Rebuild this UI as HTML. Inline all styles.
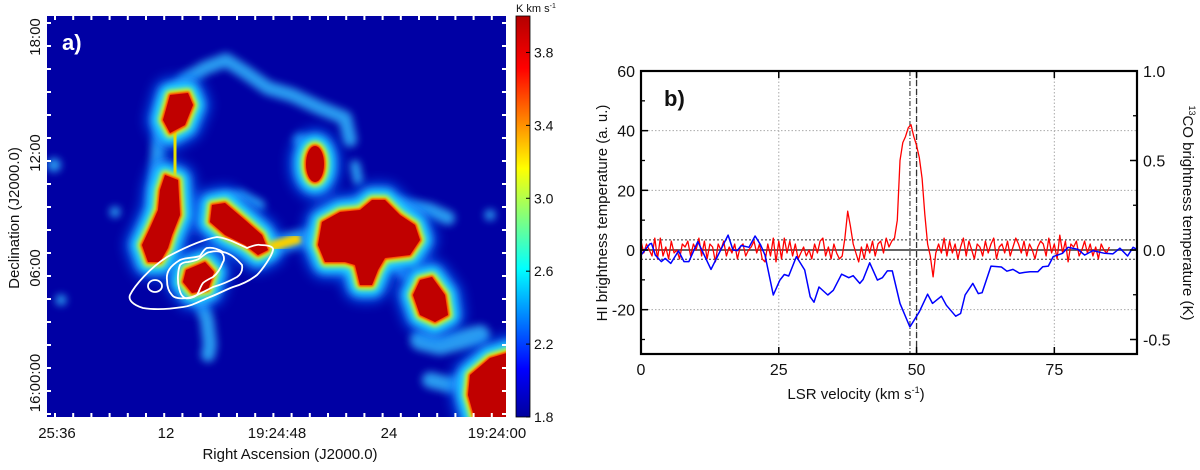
<!DOCTYPE html>
<html><head><meta charset="utf-8">
<style>
body{margin:0;background:#fff;width:1200px;height:465px;overflow:hidden;font-family:"Liberation Sans",sans-serif;}
svg text{font-family:"Liberation Sans",sans-serif;}
</style></head>
<body>
<svg id="fig" width="1200" height="465" viewBox="0 0 1200 465" xmlns="http://www.w3.org/2000/svg">
<defs>
  <filter id="bl0" x="-30%" y="-30%" width="160%" height="160%"><feGaussianBlur stdDeviation="6"/></filter>
  <filter id="bl1" x="-30%" y="-30%" width="160%" height="160%"><feGaussianBlur stdDeviation="4"/></filter>
  <filter id="bl2" x="-20%" y="-20%" width="140%" height="140%"><feGaussianBlur stdDeviation="2.5"/></filter>
  <filter id="bl3" x="-20%" y="-20%" width="140%" height="140%"><feGaussianBlur stdDeviation="1"/></filter>
  <clipPath id="mapclip"><rect x="47" y="16" width="459" height="401"/></clipPath>
  <linearGradient id="jet" x1="0" y1="1" x2="0" y2="0">
    <stop offset="0" stop-color="#00009c"/>
    <stop offset="0.12" stop-color="#0000ff"/>
    <stop offset="0.37" stop-color="#00ffff"/>
    <stop offset="0.62" stop-color="#ffff00"/>
    <stop offset="0.87" stop-color="#ff0000"/>
    <stop offset="1" stop-color="#b40000"/>
  </linearGradient>
  <g id="cores">
    <polygon points="170,95 188,93 193,105 185,125 170,133 163,120"/>
    <polygon points="165,175 178,180 180,215 172,235 168,248 160,262 148,262 142,245 150,228 158,210 160,190"/>
    <polygon points="212,205 225,203 245,220 262,235 268,250 258,255 245,245 225,235 210,222"/>
    <polygon points="186,270 205,262 214,272 208,290 192,293 183,282"/>
    <ellipse cx="315" cy="164" rx="9" ry="18"/>
    <polygon points="322,222 340,212 360,210 372,200 385,200 400,215 415,225 420,240 410,255 385,258 378,270 372,285 360,285 355,265 345,262 325,262 318,245"/>
    <polygon points="420,280 432,277 445,295 448,315 435,322 420,315 413,295"/>
    <polygon points="470,375 490,358 510,352 510,420 475,420 468,395"/>
  </g>
</defs>

<g>
  <g clip-path="url(#mapclip)">
    <rect x="47" y="16" width="459" height="401" fill="#0000a4"/>
    <g filter="url(#bl1)" fill="none" stroke="#30b8ff" stroke-linecap="round" stroke-linejoin="round" opacity="0.85">
      <polyline points="158,255 156,200 158,150 165,105 185,80 205,68 226,60 245,72 268,88 292,95 320,108 345,118 350,140" stroke-width="14"/>
      <polyline points="200,300 207,320 210,345 208,355" stroke-width="14"/>
      <polyline points="268,247 295,240 322,235" stroke-width="18"/>
      <polyline points="420,340 440,345 460,340 480,335" stroke-width="20"/>
      <polyline points="430,380 450,385 470,380" stroke-width="16"/>
      <polyline points="355,165 358,180" stroke-width="10"/>
      <polyline points="220,200 240,195 260,205" stroke-width="10"/>
      <polyline points="400,205 430,210 448,218" stroke-width="14"/>
      <polyline points="395,265 405,275" stroke-width="10"/>
      <circle cx="54" cy="165" r="5" fill="#30b8ff" stroke-width="4"/>
      <circle cx="115" cy="212" r="4" fill="#30b8ff" stroke-width="3"/>
      <circle cx="61" cy="300" r="4" fill="#30b8ff" stroke-width="3"/>
      <circle cx="490" cy="215" r="4" fill="#30b8ff" stroke-width="3"/>
      <circle cx="300" cy="140" r="5" fill="#30b8ff" stroke-width="3"/>
    </g>
    <use href="#cores" fill="#1070ff" stroke="#1070ff" stroke-width="34" stroke-linejoin="round" filter="url(#bl0)" opacity="0.8"/>
    <use href="#cores" fill="#20d8ff" stroke="#20d8ff" stroke-width="22" stroke-linejoin="round" filter="url(#bl1)"/>
    <use href="#cores" fill="#e8f000" stroke="#e8f000" stroke-width="9" stroke-linejoin="round" filter="url(#bl2)"/>
    <polyline points="176,128 174,175" stroke="#e8e000" stroke-width="14" fill="none" filter="url(#bl2)"/>
    <polyline points="270,247 300,238" stroke="#f8d000" stroke-width="10" fill="none" filter="url(#bl2)"/>
    <use href="#cores" fill="#ff3000" stroke="#ff3000" stroke-width="3" stroke-linejoin="round" filter="url(#bl3)"/>
    <use href="#cores" fill="#c00000"/>
    <g fill="none" stroke="#fff" stroke-width="1.8" stroke-linejoin="round">
      <path d="M130,295 C135,285 150,268 167,257 C180,250 200,240 217,237 C228,238 240,245 247,248 C252,246 258,244 260,245 C266,245 274,246 273,250 C272,256 262,270 257,275 C248,282 240,285 233,287 C225,290 218,294 210,297 C200,301 192,306 183,307 C170,309 155,310 143,308 C133,305 128,300 130,295 Z"/>
      <path d="M167,280 C166,272 170,266 180,260 C188,257 195,258 200,256 C203,252 204,249 207,248 C213,247 218,249 223,252 C229,253 236,258 242,265 C243,271 240,275 237,277 C228,282 220,285 213,287 C203,292 195,297 187,298 C180,299 174,298 172,295 C168,291 167,285 167,280 Z"/>
      <path d="M179,288 C177,280 178,270 180,265 C183,262 186,262 188,262 C194,261 198,260 200,258 C204,255 207,252 210,252 C215,251 220,251 222,253 C225,257 224,261 223,262 C220,270 217,274 213,277 C209,279 205,281 203,283 C200,287 199,292 197,295 C193,298 188,299 185,298 C181,296 180,292 179,288 Z"/>
      <ellipse cx="155" cy="286" rx="7" ry="6"/>
    </g>
  </g>
  <g id="mapticks" stroke="#fff" stroke-width="2"></g>
  <text x="62" y="50" font-size="22" font-weight="bold" fill="#fff">a)</text>
  <g font-size="15" fill="#111">
    <text x="57" y="438" text-anchor="middle">25:36</text>
    <text x="166" y="438" text-anchor="middle">12</text>
    <text x="277" y="438" text-anchor="middle">19:24:48</text>
    <text x="389" y="438" text-anchor="middle">24</text>
    <text x="497" y="438" text-anchor="middle">19:24:00</text>
  </g>
  <text x="290" y="459" font-size="15" text-anchor="middle" fill="#111">Right Ascension (J2000.0)</text>
  <g font-size="15" fill="#111">
    <text transform="translate(40,37) rotate(-90)" text-anchor="middle">18:00</text>
    <text transform="translate(40,153) rotate(-90)" text-anchor="middle">12:00</text>
    <text transform="translate(40,268) rotate(-90)" text-anchor="middle">06:00</text>
    <text transform="translate(40,383) rotate(-90)" text-anchor="middle">16:00:00</text>
  </g>
  <text transform="translate(19,218) rotate(-90)" font-size="15" text-anchor="middle" fill="#111">Declination (J2000.0)</text>
  <g>
    <rect x="516" y="16" width="14" height="401" fill="url(#jet)" stroke="#000" stroke-width="0.8"/>
    <text x="516" y="12" font-size="11" fill="#111">K km s<tspan font-size="7" dy="-4">-1</tspan></text>
    <g id="cbticks" font-size="14" fill="#111"></g>
  </g>
</g>

<g id="spec">
  <g id="grid"></g>
  <g id="series"></g>
  <rect x="641" y="71" width="496" height="283" fill="none" stroke="#000" stroke-width="2.2"/>
  <g id="axes"></g>
  <text x="664" y="106" font-size="22" font-weight="bold" fill="#111">b)</text>
  <text x="856" y="399" font-size="15" text-anchor="middle" fill="#111">LSR velocity (km s<tspan font-size="9" dy="-6">-1</tspan><tspan dy="6">)</tspan></text>
  <text transform="translate(607,213) rotate(-90)" font-size="15" text-anchor="middle" fill="#111">HI brightness temperature (a. u.)</text>
  <text transform="translate(1183,213) rotate(90)" font-size="15" text-anchor="middle" fill="#111"><tspan font-size="9" dy="-6">13</tspan><tspan dy="6">CO brightness temperature (K)</tspan></text>
</g>
</svg>
<script>
// ---- data ----
const xTicks = [0, 25, 50, 75];
const yTicksLeft = [60, 40, 20, 0, -20];
const yMinorLeft = [50, 30, 10, -10, -30];
const yTicksRight = [1.0, 0.5, 0.0, -0.5];
const yTickLabelsRight = ["1.0", "0.5", "0.0", "-0.5"];
const yMinorRight = [0.75, 0.25, -0.25];
const cbTicks = [3.8, 3.4, 3.0, 2.6, 2.2, 1.8];
const cbLabels = ["3.8", "3.4", "3.0", "2.6", "2.2", "1.8"];
const redStep = 0.5;
const redT = [3,-1,2,0,-2,4,-3,4,-2,1,-3,3,-1,0,-3,2,1,3,-2,2,0,
 4,-2,3,-3,2,1,-4,2,0,3,-2,1,-1,2,-3,1,2,-2,0,1,
 3,-1,2,-3,-4,2,-2,4,-4,3,-3,4,-1,3,-2,2,-3,-1,1,-2,
 0,-3,2,-1,3,4,-2,1,-3,2,-1,-3,-2,4,
 13,8,2,-1,-4,1,-3,2,-1,3,-2,2,3,-1,4,1,3,4,10,30,36,38,41,42,38,35,31,24,12,2,-2,-9,-1,2,-1,
 4,-2,3,-1,2,-3,1,4,-2,3,0,-3,2,1,-2,3,-1,2,4,-3,1,2,-1,3,-2,1,4,2,-1,3,-2,2,0,-3,1,3,2,-2,4,-1,2,-3,5,-1,3,-4,2,1,3,-2,0,3,-1,2,-2,1,-3,2,0,-1,1];
const blueV = [0,1.6,1.9,2.6,3.7,4.4,5.4,6.8,7.8,8.7,10.3,12.7,15.8,16.7,17.5,18.2,19.6,20.7,21.7,22.5,24,25.2,26,26.8,28.2,29.7,30.7,31.4,32.3,33.9,34.9,36.4,37.7,38.5,39.7,40.3,41.5,42.9,43.8,44.7,45.6,47,48.8,50.5,52,52.9,54.5,55.4,57.1,58,58.8,60.2,61.2,61.9,63.5,65.4,66.4,67.5,68.7,69.6,70.6,72,72.9,73.9,74.8,76.5,77.5,79.3,80.5,82,84.1,85.6,86.9,88.3,89.3,90];
const blueT = [-1.7,2,2.2,-1.7,-3.9,-2.8,-4.5,-0.3,-3.9,-3.9,2.8,-6.5,5,0,-0.2,1.5,0.9,4.7,1.7,-1.7,-15.1,-10.1,-8.2,-8.7,-2.2,-6.7,-15.7,-17.5,-12.4,-15.1,-13.5,-8.1,-9.3,-8.6,-11.2,-9.9,-4.3,-10.1,-9.3,-7,-7,-17.9,-25.8,-20.7,-14.8,-17.9,-15.5,-18.5,-22.2,-21.3,-15.1,-11.2,-14.6,-14.3,-5.4,-5.7,-7.1,-6.5,-7.8,-7.5,-7.3,-7.3,-5.6,-5.4,-2.2,-1.1,0.9,0.2,-1.7,-0.2,-1.1,-1.3,0.6,-2,0.9,0.2];
const noiseLevel = [3.4, -3.1];
const vLines = [48.8, 50];

// ---- scales ----
const X0=641, X1=1137, Y0=71, Y1=354;
const xs = v => X0 + (v-0)*(X1-X0)/90;
const ys = t => 250 - t*(250-Y0)/60;
const ysR = k => 250 - k*(250-Y0)/1.0;
const cbY = c => 417 - (c-1.8)*(417-16)/(4.0-1.8);
const NS='http://www.w3.org/2000/svg';
function mk(tag, attrs, parent){const e=document.createElementNS(NS,tag);for(const k in attrs)e.setAttribute(k,attrs[k]);parent.appendChild(e);return e;}

const grid=document.getElementById('grid'), axes=document.getElementById('axes'), series=document.getElementById('series');
xTicks.slice(1).forEach(v=>{
  const l=mk('line',{x1:xs(v),x2:xs(v),y1:Y0,y2:Y1,stroke:'#aaa','stroke-width':1,'stroke-dasharray':'1.5,2'},grid);
  
  
});
yTicksLeft.filter(t=>t!==0&&t!==60).forEach(t=>{
  const l=mk('line',{x1:X0,x2:X1,y1:ys(t),y2:ys(t),stroke:'#aaa','stroke-width':1,'stroke-dasharray':'1.5,2'},grid);
  
  
});
noiseLevel.forEach(t=>{
  const l=mk('line',{x1:X0,x2:X1,y1:ys(t),y2:ys(t),stroke:'#333','stroke-width':1,'stroke-dasharray':'2,2'},grid);
  
  
});
const zl=mk('line',{x1:X0,x2:X1,y1:ys(0),y2:ys(0),stroke:'#666','stroke-width':2},grid);


const vl1=mk('line',{x1:xs(vLines[0]),x2:xs(vLines[0]),y1:Y0,y2:Y1,stroke:'#555','stroke-width':1.3,'stroke-dasharray':'5,2,1,2'},grid);


const vl2=mk('line',{x1:xs(vLines[1]),x2:xs(vLines[1]),y1:Y0,y2:Y1,stroke:'#333','stroke-width':1.3,'stroke-dasharray':'6,3'},grid);



const redPts=redT.map((t,i)=>xs(i*redStep).toFixed(1)+','+ys(t).toFixed(1)).join(' ');
const red=mk('polyline',{points:redPts,fill:'none',stroke:'#ff0000','stroke-width':1.3,'stroke-linejoin':'round'},series);


const bluePts=blueV.map((v,i)=>xs(v).toFixed(1)+','+ys(blueT[i]).toFixed(1)).join(' ');
const blue=mk('polyline',{points:bluePts,fill:'none',stroke:'#0000ff','stroke-width':1.5,'stroke-linejoin':'round'},series);



xTicks.forEach(v=>{
  mk('line',{x1:xs(v),x2:xs(v),y1:Y1,y2:Y1-7,stroke:'#000','stroke-width':1.5},axes);
  mk('line',{x1:xs(v),x2:xs(v),y1:Y0,y2:Y0+7,stroke:'#000','stroke-width':1.5},axes);
  const t=mk('text',{x:xs(v),y:375,'font-size':16,'text-anchor':'middle',fill:'#111'},axes);
  t.textContent=String(v);
  
  
});
yTicksLeft.forEach(v=>{
  mk('line',{x1:X0,x2:X0+7,y1:ys(v),y2:ys(v),stroke:'#000','stroke-width':1.5},axes);
  const t=mk('text',{x:X0-6,y:ys(v)+6,'font-size':16,'text-anchor':'end',fill:'#111'},axes);
  t.textContent=String(v);
  
  
});
yMinorLeft.forEach(v=>mk('line',{x1:X0,x2:X0+4,y1:ys(v),y2:ys(v),stroke:'#000','stroke-width':1.3},axes));
yTicksRight.forEach((k,i)=>{
  mk('line',{x1:X1,x2:X1-7,y1:ysR(k),y2:ysR(k),stroke:'#000','stroke-width':1.5},axes);
  const t=mk('text',{x:X1+6,y:ysR(k)+6,'font-size':16,'text-anchor':'start',fill:'#111'},axes);
  t.textContent=yTickLabelsRight[i];
  
  
});
yMinorRight.forEach(k=>mk('line',{x1:X1,x2:X1-4,y1:ysR(k),y2:ysR(k),stroke:'#000','stroke-width':1.3},axes));

const cbt=document.getElementById('cbticks');
cbTicks.forEach((c,i)=>{
  mk('line',{x1:530,x2:526,y1:cbY(c),y2:cbY(c),stroke:'#000','stroke-width':1},cbt);
  const t=mk('text',{x:534,y:cbY(c)+5},cbt);
  t.textContent=cbLabels[i];
  
  
});

const mt=document.getElementById('mapticks');
for(let x=55;x<506;x+=18.2){mk('line',{x1:x,x2:x,y1:16,y2:20},mt);mk('line',{x1:x,x2:x,y1:413,y2:417},mt);}
for(let y=23;y<417;y+=23){mk('line',{x1:47,x2:51,y1:y,y2:y},mt);mk('line',{x1:502,x2:506,y1:y,y2:y},mt);}
</script>
</body></html>
